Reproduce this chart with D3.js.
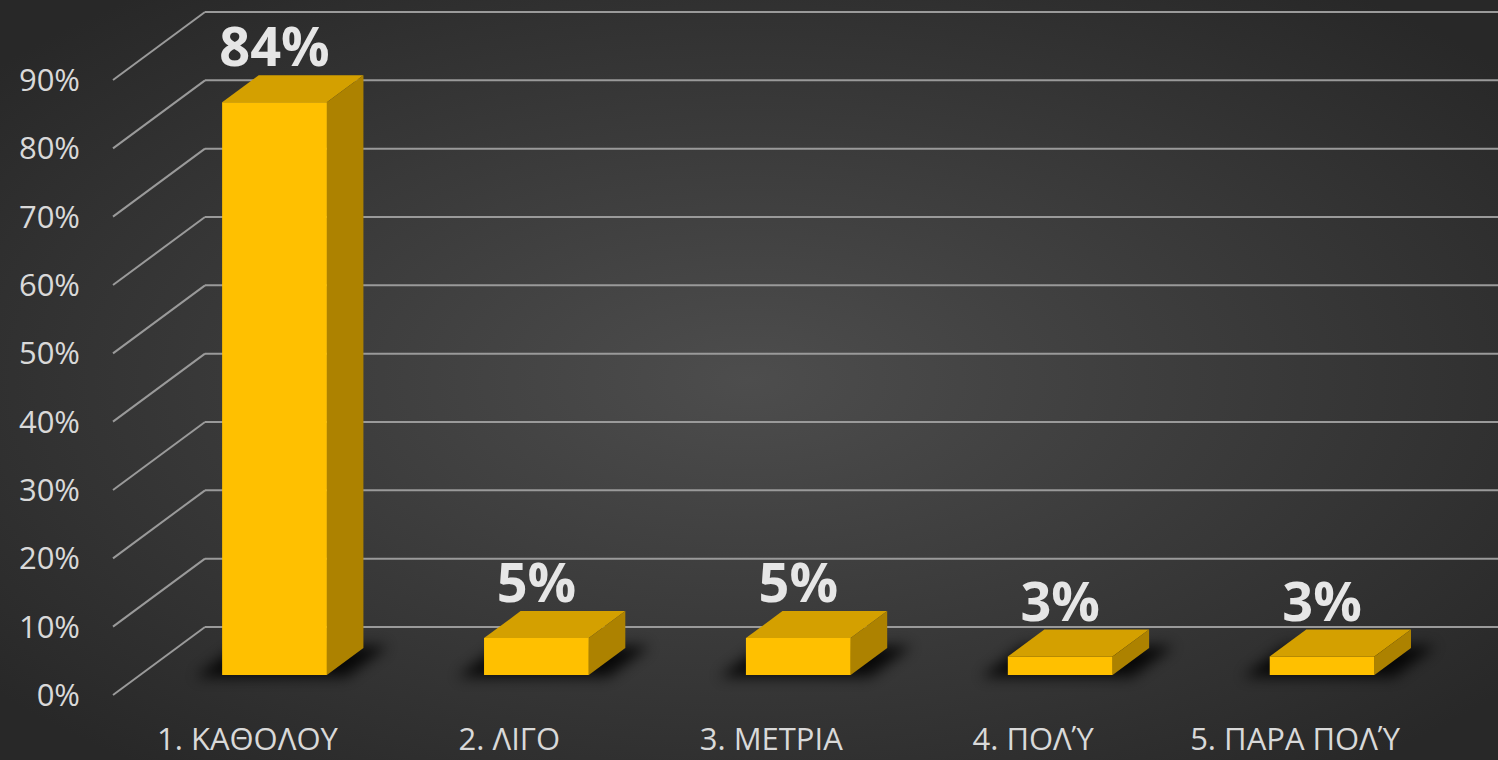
<!DOCTYPE html>
<html>
<head>
<meta charset="utf-8">
<script src="https://cdn.jsdelivr.net/npm/d3@7"></script>
<style>
  html, body { margin: 0; padding: 0; background: #2b2b2b; }
  svg { display: block; }
</style>
</head>
<body>
<svg id="chart" width="1498" height="760"></svg>
<script>
// Data
const categories = ["1. ΚΑΘΟΛΟΥ", "2. ΛΙΓΟ", "3. ΜΕΤΡΙΑ", "4. ΠΟΛΎ", "5. ΠΑΡΑ ΠΟΛΎ"];
const values = [83.8, 5.4, 5.4, 2.7, 2.7];
const labels = ["84%", "5%", "5%", "3%", "3%"];
const yTicks = [0, 10, 20, 30, 40, 50, 60, 70, 80, 90];

const W = 1498, H = 760;
const svg = d3.select("#chart");

// Background gradient
const defs = svg.append("defs");
const bg = defs.append("radialGradient")
    .attr("id", "bg")
    .attr("cx", "50%").attr("cy", "50%").attr("r", "65%");
bg.append("stop").attr("offset", "0%").attr("stop-color", "#4d4d4d");
bg.append("stop").attr("offset", "100%").attr("stop-color", "#282828");

const blur = defs.append("filter").attr("id", "shadow")
    .attr("x", "-50%").attr("y", "-50%").attr("width", "200%").attr("height", "200%");
blur.append("feGaussianBlur").attr("stdDeviation", 7);

svg.append("rect").attr("width", W).attr("height", H).attr("fill", "url(#bg)");

// Scales (front edge of the floor)
const y = d3.scaleLinear().domain([0, 90]).range([695, 80]);
const x = d3.scalePoint().domain(categories).range([116.5, 1426]).padding(0.5);
const barW = x.step() * 0.4;

// depth projection: depth d moves up by d and right by d * k
const depthFull = 68, k = 92 / 68;
const proj = (px, py, d) => [px + d * k, py - d];

const axisX = 113;
const gridColor = "#9a9a9a";

// Gridlines: side wall diagonals + back wall lines
const grid = svg.append("g");
yTicks.forEach(t => {
    const a = [axisX, y(t)];
    const b = proj(axisX, y(t), depthFull);
    grid.append("line")
        .attr("x1", a[0]).attr("y1", a[1])
        .attr("x2", b[0]).attr("y2", b[1])
        .attr("stroke", gridColor).attr("stroke-width", 2);
    grid.append("line")
        .attr("x1", b[0]).attr("y1", b[1])
        .attr("x2", W).attr("y2", b[1])
        .attr("stroke", gridColor).attr("stroke-width", 2);
});

// Y axis labels
svg.append("g").selectAll("text")
    .data(yTicks)
    .join("text")
    .attr("x", 80)
    .attr("y", d => y(d))
    .attr("dy", "0.36em")
    .attr("text-anchor", "end")
    .attr("font-family", "Open Sans, sans-serif")
    .attr("font-size", 31)
    .attr("fill", "#d9d9d9")
    .text(d => d + "%");

// Bars
const d1 = 20, d2 = 47;
const poly = pts => "M" + pts.map(p => p.join(",")).join("L") + "Z";

const bars = svg.append("g").selectAll("g")
    .data(categories.map((c, i) => ({ c, v: values[i], label: labels[i] })))
    .join("g");

// shadow on the floor
bars.append("path")
    .attr("filter", "url(#shadow)")
    .attr("fill", "#000")
    .attr("opacity", 0.85)
    .attr("d", d => {
        const cx = x(d.c);
        const l = cx - barW / 2 - 24, r = cx + barW / 2 + 22;
        return poly([proj(l, y(0), d1 - 2), proj(r, y(0), d1 - 2), proj(r, y(0), d2 + 2), proj(l, y(0), d2 + 2)]);
    });

// top face
bars.append("path")
    .attr("fill", "#d4a000")
    .attr("d", d => {
        const cx = x(d.c);
        const l = cx - barW / 2, r = cx + barW / 2, t = y(d.v);
        return poly([proj(l, t, d1), proj(r, t, d1), proj(r, t, d2), proj(l, t, d2)]);
    });

// side face
bars.append("path")
    .attr("fill", "#ad8200")
    .attr("d", d => {
        const cx = x(d.c);
        const r = cx + barW / 2, t = y(d.v), b = y(0);
        return poly([proj(r, t, d1), proj(r, t, d2), proj(r, b, d2), proj(r, b, d1)]);
    });

// front face
bars.append("path")
    .attr("fill", "#ffc000")
    .attr("d", d => {
        const cx = x(d.c);
        const l = cx - barW / 2, r = cx + barW / 2, t = y(d.v), b = y(0);
        return poly([proj(l, t, d1), proj(r, t, d1), proj(r, b, d1), proj(l, b, d1)]);
    });

// data labels
bars.append("text")
    .attr("x", d => proj(x(d.c), 0, d1)[0])
    .attr("y", d => proj(0, y(d.v), d2)[1] - 9)
    .attr("text-anchor", "middle")
    .attr("font-family", "Open Sans, sans-serif")
    .attr("font-weight", "bold")
    .attr("font-size", 54)
    .attr("fill", "#e6e6e6")
    .text(d => d.label);

// Category labels
svg.append("g").selectAll("text")
    .data(categories)
    .join("text")
    .attr("x", d => x(d))
    .attr("y", 750)
    .attr("text-anchor", "middle")
    .attr("font-family", "Open Sans, sans-serif")
    .attr("font-size", 31)
    .attr("fill", "#d9d9d9")
    .text(d => d);
</script>
</body>
</html>
